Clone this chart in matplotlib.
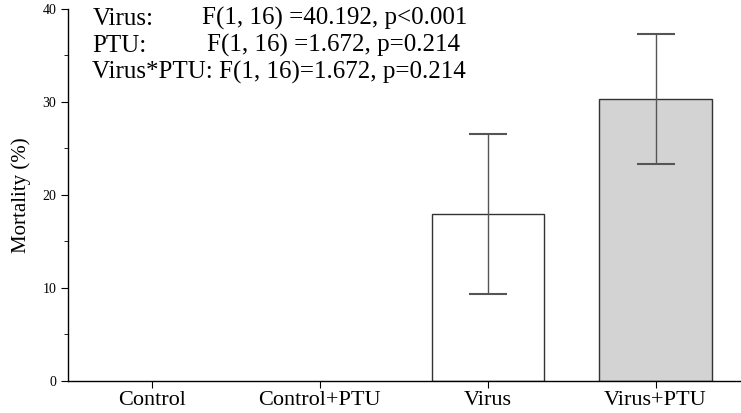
import matplotlib
matplotlib.use("Agg")
import matplotlib.pyplot as plt
from matplotlib.ticker import MultipleLocator

# data
groups = ["Control", "Control+PTU", "Virus", "Virus+PTU"]
mortality = [0, 0, 17.9, 30.3]
err = [0, 0, 8.6, 7.0]
colors = ["white", "white", "white", "#d3d3d3"]

stats_names = ["Virus:", "PTU:"]
stats_vals = ["F(1, 16) =40.192, p<0.001", "F(1, 16) =1.672, p=0.214"]
stats_last = "Virus*PTU: F(1, 16)=1.672, p=0.214"

plt.rcParams["font.family"] = ["Liberation Serif", "DejaVu Serif"]

fig = plt.figure(figsize=(7.41, 4.13), dpi=100)
ax = fig.add_axes([0.092, 0.078, 0.906, 0.901])

x = range(len(groups))
lw = [1.0 if m > 0 else 0 for m in mortality]
ax.bar(x, mortality, width=0.67, color=colors, edgecolor="#333333", linewidth=lw)
# error bars only where there is spread
for xi, m, e in zip(x, mortality, err):
    if e > 0:
        ax.errorbar(xi, m, yerr=e, fmt="none", ecolor="#555555",
                    elinewidth=1.0, capsize=14, capthick=1.5)

ax.set_xlim(-0.5, 3.5)
ax.set_ylim(0, 40)
ax.set_xticks(list(x))
ax.set_xticklabels(groups, fontsize=16)
ax.yaxis.set_major_locator(MultipleLocator(10))
ax.yaxis.set_minor_locator(MultipleLocator(5))
ax.tick_params(axis="y", labelsize=10, length=5, direction="out")
ax.tick_params(axis="y", which="minor", length=3)
ax.tick_params(axis="x", length=5, direction="out", pad=2)
ax.set_ylabel("Mortality (%)", fontsize=15, labelpad=8)

for s in ["top", "right"]:
    ax.spines[s].set_visible(False)
for s in ["left", "bottom"]:
    ax.spines[s].set_linewidth(1.0)

fs = 18
ax.text(0.036, 0.973, stats_names[0], transform=ax.transAxes, fontsize=fs, va="center")
ax.text(0.199, 0.973, stats_vals[0], transform=ax.transAxes, fontsize=fs, va="center")
ax.text(0.036, 0.901, stats_names[1], transform=ax.transAxes, fontsize=fs, va="center")
ax.text(0.207, 0.901, stats_vals[1], transform=ax.transAxes, fontsize=fs, va="center")
ax.text(0.036, 0.829, stats_last, transform=ax.transAxes, fontsize=fs, va="center")

fig.savefig("out.png", dpi=100)
